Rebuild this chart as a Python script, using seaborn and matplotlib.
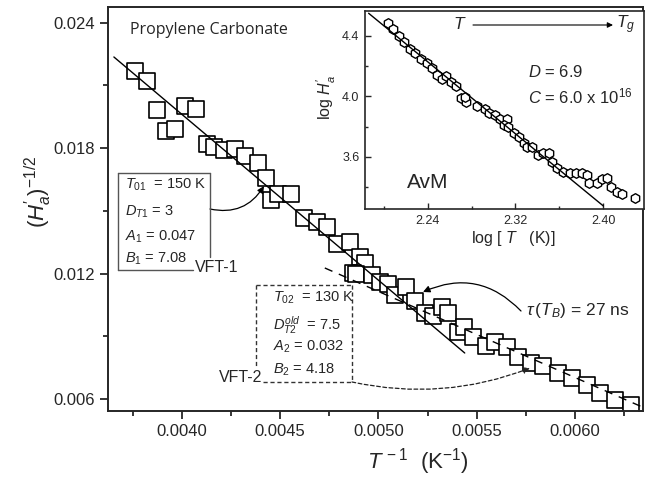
import numpy as np
import pandas as pd
import matplotlib
matplotlib.use("Agg")
import matplotlib.pyplot as plt
import seaborn as sns
from matplotlib.lines import Line2D

# ---------------- data ----------------
inv_T = [0.003761, 0.003820, 0.003871, 0.003917, 0.003964, 0.004015, 0.004070,
         0.004126, 0.004164, 0.004215, 0.004270, 0.004320, 0.004385, 0.004427,
         0.004451, 0.004490, 0.004553, 0.004620, 0.004687, 0.004737, 0.004788,
         0.004854, 0.004905, 0.004931, 0.004870, 0.004885, 0.004966, 0.005007,
         0.005048, 0.005083, 0.005139, 0.005185, 0.005236, 0.005277, 0.005322,
         0.005353, 0.005404, 0.005434, 0.005480, 0.005546, 0.005592, 0.005653,
         0.005709, 0.005775, 0.005836, 0.005912, 0.005984, 0.006060, 0.006126,
         0.006202, 0.006284]
Ha_inv_sqrt = [0.02171, 0.02121, 0.01983, 0.01882, 0.01892, 0.02002, 0.01986,
               0.01820, 0.01807, 0.01791, 0.01796, 0.01763, 0.01731, 0.01659,
               0.01552, 0.01581, 0.01581, 0.01466, 0.01447, 0.01423, 0.01342,
               0.01352, 0.01280, 0.01251, 0.01203, 0.01199, 0.01194, 0.01160,
               0.01151, 0.01098, 0.01136, 0.01070, 0.01012, 0.00998, 0.01041,
               0.01012, 0.00921, 0.00945, 0.00897, 0.00854, 0.00874, 0.00850,
               0.00802, 0.00773, 0.00759, 0.00725, 0.00701, 0.00668, 0.00630,
               0.00596, 0.00572]

vft1_x = [0.003654, 0.005439]
vft1_y = [0.02236, 0.008208]
vft2_x = [0.004727, 0.006340]
vft2_y = [0.012273, 0.005636]

logT = [2.2036, 2.2085, 2.2136, 2.2182, 2.2236, 2.2288, 2.2340, 2.2395, 2.2440,
        2.2485, 2.2531, 2.2570, 2.2613, 2.2661, 2.2706, 2.2752, 2.2743, 2.2849,
        2.2925, 2.2955, 2.3015, 2.3055, 2.3122, 2.3091, 2.3136, 2.3182, 2.3236,
        2.3273, 2.3304, 2.3349, 2.3409, 2.3449, 2.3509, 2.3531, 2.3576, 2.3636,
        2.3697, 2.3752, 2.3803, 2.3849, 2.3873, 2.3945, 2.3985, 2.4031, 2.4067,
        2.4122, 2.4167, 2.4288]
logHa = [4.484, 4.444, 4.402, 4.358, 4.312, 4.286, 4.246, 4.219, 4.186, 4.142,
         4.114, 4.136, 4.098, 4.069, 3.992, 3.966, 3.999, 3.937, 3.915, 3.889,
         3.878, 3.849, 3.849, 3.812, 3.800, 3.757, 3.730, 3.695, 3.668, 3.668,
         3.613, 3.624, 3.624, 3.569, 3.525, 3.503, 3.496, 3.496, 3.492, 3.481,
         3.430, 3.430, 3.452, 3.459, 3.404, 3.371, 3.353, 3.331]
avm_x = [2.1863, 2.400]
avm_y = [4.550, 3.276]

main_xticks = [0.0040, 0.0045, 0.0050, 0.0055, 0.0060]
main_yticks = [0.006, 0.012, 0.018, 0.024]
inset_xticks = [2.24, 2.32, 2.40]
inset_yticks = [3.6, 4.0, 4.4]

# ---------------- style ----------------
sns.set_style("ticks")
plt.rcParams['font.family'] = ['Liberation Sans', 'DejaVu Sans']
plt.rcParams['mathtext.fontset'] = 'custom'
plt.rcParams['mathtext.rm'] = 'Liberation Sans'
plt.rcParams['mathtext.it'] = 'Liberation Sans:italic'
plt.rcParams['mathtext.bf'] = 'Liberation Sans:bold'

W, H = 658, 479
fig = plt.figure(figsize=(W / 100, H / 100), dpi=100)

def fx(px):
    return px / W

def fy(py):
    return 1 - py / H

# main axes: left 108, right 643, top 7, bottom 411
ax = fig.add_axes([fx(108), fy(411), fx(643) - fx(108), fy(7) - fy(411)])

main_df = pd.DataFrame({"x": inv_T, "y": Ha_inv_sqrt})
sns.scatterplot(data=main_df, x="x", y="y", ax=ax, marker='s', s=125,
                color='white', edgecolor='black', linewidth=1.2, zorder=2,
                legend=False)
sns.lineplot(x=vft1_x, y=vft1_y, ax=ax, color='black', lw=1.0, zorder=3,
             estimator=None, sort=False)
sns.lineplot(x=vft2_x, y=vft2_y, ax=ax, color='black', lw=1.0, zorder=3,
             estimator=None, sort=False)
ax.lines[-1].set_dashes((6, 5))

ax.set_xlim(0.003624, 0.006346)
ax.set_ylim(0.005435, 0.02475)
ax.set_xticks(main_xticks)
ax.set_xticklabels([f"{v:.4f}" for v in main_xticks])
ax.set_yticks(main_yticks)
ax.set_yticklabels([f"{v:.3f}" for v in main_yticks])
ax.set_xticks([0.00375, 0.00425, 0.00475, 0.00525, 0.00575, 0.00625], minor=True)
ax.set_yticks([0.009, 0.015, 0.021], minor=True)
ax.tick_params(which='major', direction='out', length=6, width=1.3,
               labelsize=12, top=False, right=False)
ax.tick_params(which='minor', direction='out', length=3.5, width=1.3,
               top=False, right=False)
for sp in ax.spines.values():
    sp.set_linewidth(1.4)
ax.set_xlabel("")
ax.set_ylabel("")

fig.text(fx(418), fy(462), r"$T^{\,-1}$  (K$^{-1}$)", ha='center', va='center',
         fontsize=16)
fig.text(fx(38), fy(192), r"$(H^{\prime}_{a})^{-1/2}$", ha='center', va='center',
         fontsize=16, rotation=90)

fig.text(fx(130), fy(30), "Propylene Carbonate", ha='left', va='center',
         fontsize=11.5, family=['Open Sans', 'DejaVu Sans'])

# box 1 (solid gray)
gray = '#555555'
for xs, ys in [((118, 118), (173, 270)), ((118, 210), (173, 173)),
               ((210, 210), (173, 257)), ((118, 193), (270, 270))]:
    fig.add_artist(Line2D([fx(xs[0]), fx(xs[1])], [fy(ys[0]), fy(ys[1])],
                          transform=fig.transFigure, color=gray, lw=1.0))
box1 = [r"$T_{01}$  = 150 K", r"$D_{T1}$ = 3", r"$A_{1}$ = 0.047", r"$B_{1}$ = 7.08"]
for t, py in zip(box1, [185, 212, 237, 259]):
    fig.text(fx(125), fy(py), t, ha='left', va='center', fontsize=10.5)
fig.text(fx(195), fy(268), "VFT-1", ha='left', va='center', fontsize=11.5)

# box 2 (dashed)
for xs, ys in [((256, 256), (285, 367)), ((256, 352), (285, 285)),
               ((352, 352), (285, 382)), ((263, 352), (382, 382))]:
    fig.add_artist(Line2D([fx(xs[0]), fx(xs[1])], [fy(ys[0]), fy(ys[1])],
                          transform=fig.transFigure, color='#333333', lw=1.0,
                          dashes=(3, 2)))
box2 = [r"$T_{02}$  = 130 K", r"$D^{old}_{T2}$  = 7.5", r"$A_{2}$ = 0.032",
        r"$B_{2}$ = 4.18"]
for t, py in zip(box2, [298, 325, 347, 370]):
    fig.text(fx(273), fy(py), t, ha='left', va='center', fontsize=10.5)
fig.text(fx(219), fy(377), "VFT-2", ha='left', va='center', fontsize=11.5)

# arrows
fig.add_artist(matplotlib.patches.FancyArrowPatch(
    (fx(210), fy(209)), (fx(264), fy(186)), transform=fig.transFigure,
    connectionstyle="arc3,rad=0.35", arrowstyle='-|>', mutation_scale=10,
    color='black', lw=0.9, shrinkA=0, shrinkB=0))
fig.add_artist(matplotlib.patches.FancyArrowPatch(
    (fx(521), fy(311)), (fx(423), fy(292)), transform=fig.transFigure,
    connectionstyle="arc3,rad=0.35", arrowstyle='-|>', mutation_scale=10,
    color='black', lw=0.9, shrinkA=0, shrinkB=0))
fig.add_artist(matplotlib.patches.FancyArrowPatch(
    (fx(352), fy(382)), (fx(530), fy(368)), transform=fig.transFigure,
    connectionstyle="arc3,rad=0.15", arrowstyle='-|>', mutation_scale=10,
    color='#222222', lw=0.9, linestyle=(0, (3, 2)), shrinkA=0, shrinkB=0))
fig.text(fx(526), fy(310), r"$\tau\,(T_{B})$ = 27 ns", ha='left', va='center',
         fontsize=12.5)

# ---------------- inset ----------------
axi = fig.add_axes([fx(365), fy(209), fx(644) - fx(365), fy(11) - fy(209)])
inset_df = pd.DataFrame({"x": logT, "y": logHa})
sns.scatterplot(data=inset_df, x="x", y="y", ax=axi, marker='h', s=48,
                color='white', edgecolor='black', linewidth=1.0, zorder=2,
                legend=False)
sns.lineplot(x=avm_x, y=avm_y, ax=axi, color='black', lw=1.0, zorder=3,
             estimator=None, sort=False)
axi.set_xlim(2.183, 2.437)
axi.set_ylim(3.256, 4.565)
axi.set_xticks(inset_xticks)
axi.set_xticklabels([f"{v:.2f}" for v in inset_xticks])
axi.set_yticks(inset_yticks)
axi.set_yticklabels([f"{v:.1f}" for v in inset_yticks])
axi.set_xticks([2.20, 2.28, 2.36], minor=True)
axi.set_yticks([3.4, 3.8, 4.2], minor=True)
axi.tick_params(which='major', direction='in', length=4, width=1.0,
                labelsize=9, top=False, right=False, pad=4)
axi.tick_params(which='minor', direction='in', length=2.5, width=1.0,
                top=False, right=False)
for sp in axi.spines.values():
    sp.set_linewidth(1.2)
axi.set_xlabel("")
axi.set_ylabel("")

fig.text(fx(513), fy(238), r"log [ $T$   (K)]", ha='center', va='center',
         fontsize=11.5)
fig.text(fx(326), fy(97), r"log $H^{\prime}_{a}$", ha='center', va='center',
         fontsize=11.5, rotation=90)
fig.text(fx(460), fy(24), r"$T$", ha='center', va='center', fontsize=12.5)
fig.add_artist(matplotlib.patches.FancyArrowPatch(
    (fx(473), fy(25)), (fx(613), fy(25)), transform=fig.transFigure,
    arrowstyle='-|>', mutation_scale=8, color='black', lw=0.8,
    shrinkA=0, shrinkB=0))
fig.text(fx(616), fy(25), r"$T_{g}$", ha='left', va='center', fontsize=12.5)
fig.text(fx(528), fy(72), r"$D$ = 6.9", ha='left', va='center', fontsize=12)
fig.text(fx(528), fy(96), r"$C$ = 6.0 x 10$^{16}$", ha='left', va='center',
         fontsize=12)
fig.text(fx(407), fy(183), "AvM", ha='left', va='center', fontsize=15)

fig.savefig("out.png", dpi=100)
